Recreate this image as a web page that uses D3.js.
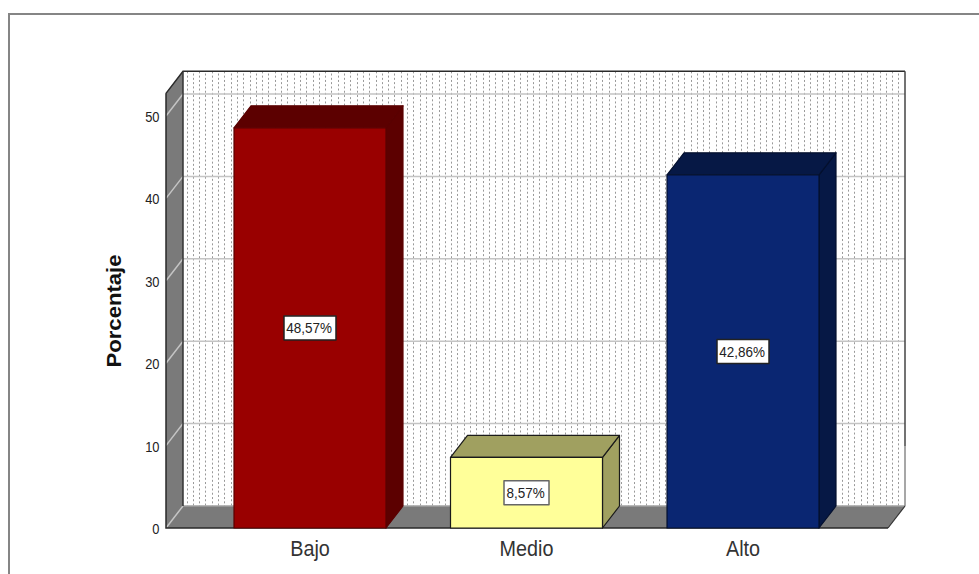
<!DOCTYPE html>
<html>
<head>
<meta charset="utf-8">
<script src="https://cdn.jsdelivr.net/npm/d3@7"></script>
<style>
  html, body { margin: 0; padding: 0; background: #fff; overflow: hidden; }
  svg { display: block; font-family: "Liberation Sans", Arial, sans-serif; }
</style>
</head>
<body>
<svg id="chart" width="979" height="574"></svg>
<script>
const categories = ["Bajo", "Medio", "Alto"];
const percentages = [48.57, 8.57, 42.86];
const percentLabels = ["48,57%", "8,57%", "42,86%"];
const frontColors = ["#990000", "#ffff99", "#0a2672"];
const topColors = ["#5c0000", "#a0a060", "#061845"];
const sideColors = ["#5c0000", "#a0a060", "#061845"];
const edgeColors = ["#5a0000", "#1a1a1a", "#04102e"];
const yTicks = [0, 10, 20, 30, 40, 50];

const svg = d3.select("#chart");

// oblique offset of the back plane relative to the front plane
const depthX = 17, depthY = -22;

const y = d3.scaleLinear().domain([0, 50]).range([528, 116]);
const yMax = 52.75;
const x = d3.scaleBand().domain(categories).range([234, 819]).paddingInner(0.298).paddingOuter(0);
const floorLeft = 166, floorRight = 888;

const poly = pts => d3.line()(pts) + "Z";

// outer frame, open at the right and bottom
svg.append("path")
  .attr("d", "M979,14H9V574")
  .attr("fill", "none")
  .attr("stroke", "#858585")
  .attr("stroke-width", 2);

const backLeft = floorLeft + depthX, backRight = floorRight + depthX;
const backTop = y(yMax) + depthY, backBottom = y(0) + depthY;

svg.append("rect")
  .attr("x", backLeft).attr("y", backTop)
  .attr("width", backRight - backLeft).attr("height", backBottom - backTop)
  .attr("fill", "#fff");

// dotted texture of the back wall, every other column shifted half a period
const dotColumns = d3.range(backLeft + 3.5, backRight - 1, 6.3);
svg.append("g")
  .selectAll("line")
  .data(dotColumns)
  .join("line")
  .attr("x1", d => Math.round(d) + 0.5)
  .attr("x2", d => Math.round(d) + 0.5)
  .attr("y1", backTop)
  .attr("y2", backBottom)
  .attr("stroke", "#999999")
  .attr("stroke-width", 1)
  .attr("stroke-dasharray", "2 2.3")
  .attr("stroke-dashoffset", (d, i) => i % 2 ? 2.1 : 0);

// left side wall
svg.append("path")
  .attr("d", poly([[floorLeft, y(0)], [floorLeft, y(yMax)], [backLeft, backTop], [backLeft, backBottom]]))
  .attr("fill", "#7a7a7a");

// floor
svg.append("path")
  .attr("d", poly([[floorLeft, y(0)], [backLeft, backBottom], [backRight, backBottom], [floorRight, y(0)]]))
  .attr("fill", "#7a7a7a");

// gridlines run along the side wall and across the back wall
const grid = svg.append("g").attr("fill", "none").attr("stroke", "#c4c4c4").attr("stroke-width", 1.5);
yTicks.forEach(t => {
  const points = t === 0
    ? [[floorLeft, y(t)], [backLeft, y(t) + depthY]]
    : [[floorLeft, y(t)], [backLeft, y(t) + depthY], [backRight, y(t) + depthY]];
  grid.append("path").attr("d", d3.line()(points));
});
svg.append("path")
  .attr("d", d3.line()([[backLeft, backBottom], [backRight, backBottom]]))
  .attr("stroke", "#a0a0a0").attr("stroke-width", 1.5);

// chart box edges
svg.append("path")
  .attr("d", `M${floorLeft},${y(yMax)}L${backLeft},${backTop}H${backRight}`)
  .attr("fill", "none").attr("stroke", "#2a2a2a").attr("stroke-width", 1.5);
svg.append("path")
  .attr("d", `M${backRight},${backTop}V${backBottom - 60}`)
  .attr("fill", "none").attr("stroke", "#444").attr("stroke-width", 1.5);
svg.append("path")
  .attr("d", `M${backRight},${backBottom - 60}V${backBottom}`)
  .attr("fill", "none").attr("stroke", "#8a8a8a").attr("stroke-width", 1.5);
svg.append("path")
  .attr("d", `M${backRight},${backBottom}L${floorRight},${y(0)}`)
  .attr("fill", "none").attr("stroke", "#333").attr("stroke-width", 1.2);
svg.append("path")
  .attr("d", `M${backLeft},${backTop}V${backBottom}`)
  .attr("fill", "none").attr("stroke", "#333").attr("stroke-width", 1.5);
svg.append("path")
  .attr("d", `M${floorLeft},${y(yMax)}V${y(0)}H${floorRight}`)
  .attr("fill", "none").attr("stroke", "#2a2a2a").attr("stroke-width", 1.5);

// bars: side and top faces first, then the front
const bars = svg.selectAll("g.bar")
  .data(categories)
  .join("g")
  .attr("class", "bar")
  .attr("stroke-width", 1.2)
  .attr("stroke-linejoin", "round");

bars.append("path")
  .attr("d", (d, i) => {
    const r = x(d) + x.bandwidth(), top = y(percentages[i]);
    return poly([[r, y(0)], [r, top], [r + depthX, top + depthY], [r + depthX, y(0) + depthY]]);
  })
  .attr("fill", (d, i) => sideColors[i])
  .attr("stroke", (d, i) => edgeColors[i]);

bars.append("path")
  .attr("d", (d, i) => {
    const l = x(d), r = l + x.bandwidth(), top = y(percentages[i]);
    return poly([[l, top], [l + depthX, top + depthY], [r + depthX, top + depthY], [r, top]]);
  })
  .attr("fill", (d, i) => topColors[i])
  .attr("stroke", (d, i) => edgeColors[i]);

bars.append("rect")
  .attr("x", d => x(d))
  .attr("y", (d, i) => y(percentages[i]))
  .attr("width", x.bandwidth())
  .attr("height", (d, i) => y(0) - y(percentages[i]))
  .attr("fill", (d, i) => frontColors[i])
  .attr("stroke", (d, i) => edgeColors[i]);

// value boxes at the middle of each front face
const valueBoxes = bars.append("g")
  .attr("transform", (d, i) => `translate(${x(d) + x.bandwidth() / 2},${y(percentages[i] / 2)})`);
valueBoxes.append("rect")
  .attr("x", (d, i) => i === 1 ? -22.5 : -26)
  .attr("y", -12)
  .attr("width", (d, i) => i === 1 ? 45 : 52)
  .attr("height", 24)
  .attr("fill", "#fff")
  .attr("stroke", (d, i) => i === 1 ? "#666" : "#222")
  .attr("stroke-width", 1.5);
valueBoxes.append("text")
  .attr("text-anchor", "middle")
  .attr("y", 5.5)
  .attr("transform", "translate(-1,0) scale(0.93,1)")
  .attr("font-size", 14.5)
  .attr("fill", "#222")
  .text((d, i) => percentLabels[i]);

// axes; the labels are a tall, narrow cut of the face
const yAxis = d3.axisLeft(y).tickValues(yTicks).tickSize(0).tickPadding(0);
const yAxisG = svg.append("g").attr("transform", `translate(159.5,0)`).call(yAxis);
yAxisG.select(".domain").remove();
yAxisG.selectAll("text")
  .attr("font-size", 15)
  .attr("font-family", "Liberation Sans")
  .attr("fill", "#222")
  .attr("x", 0)
  .attr("y", 5.5)
  .attr("dy", 0)
  .attr("transform", "scale(0.86,1)");

const xAxis = d3.axisBottom(x).tickSize(0);
const xAxisG = svg.append("g").attr("transform", `translate(0,${y(0)})`).call(xAxis);
xAxisG.select(".domain").remove();
xAxisG.selectAll("text")
  .attr("font-size", 22)
  .attr("font-family", "Liberation Sans")
  .attr("fill", "#333")
  .attr("y", 28.5)
  .attr("dy", 0)
  .attr("transform", "scale(0.9,1)");

svg.append("text")
  .attr("transform", "translate(121,311) rotate(-90)")
  .attr("text-anchor", "middle")
  .attr("font-size", 20)
  .attr("font-weight", "bold")
  .attr("fill", "#111")
  .attr("textLength", 113)
  .attr("lengthAdjust", "spacingAndGlyphs")
  .text("Porcentaje");
</script>
</body>
</html>
